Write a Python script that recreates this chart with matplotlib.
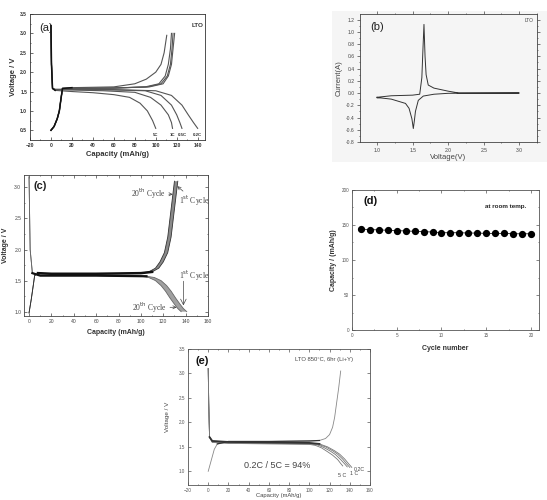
import matplotlib
matplotlib.use("Agg")
import matplotlib.pyplot as plt

plt.rcParams['font.family'] = ['Liberation Sans', 'DejaVu Sans']

# ---------------- Panel (a) data: rate capability ----------------
a_dis_labels = ["5C", "1C", "0.5C", "0.2C"]
a_dis_x = [
    [0, 0.5, 1.5, 4, 20, 40, 60, 75, 85, 92, 97, 100],
    [0, 0.5, 1.5, 4, 20, 50, 80, 95, 105, 112, 115, 116],
    [0, 0.5, 1.5, 4, 20, 60, 90, 105, 115, 120, 123, 125],
    [0, 0.5, 1.5, 4, 20, 60, 100, 115, 125, 131, 136, 140],
]
a_dis_y = [
    [3.2, 2.2, 1.58, 1.53, 1.50, 1.47, 1.42, 1.35, 1.20, 1.00, 0.75, 0.55],
    [3.2, 2.2, 1.58, 1.55, 1.54, 1.52, 1.48, 1.35, 1.15, 0.90, 0.70, 0.55],
    [3.2, 2.2, 1.58, 1.55, 1.55, 1.54, 1.52, 1.40, 1.15, 0.90, 0.70, 0.55],
    [3.2, 2.2, 1.58, 1.56, 1.56, 1.55, 1.52, 1.40, 1.15, 0.90, 0.70, 0.55],
]
a_chg_x = [
    [0, 3, 6, 8, 9.5, 11, 20, 60, 80, 91, 100, 105, 108, 110.5],
    [0, 3, 6, 8, 9.5, 11, 20, 60, 90, 103, 109, 112, 114, 115],
    [0, 3, 6, 8, 9.5, 11, 20, 60, 92, 105, 111, 114, 115.5, 116.5],
    [0, 3, 6, 8, 9.5, 11, 20, 60, 94, 107, 112, 115, 116.5, 118],
]
a_chg_y = [
    [0.5, 0.6, 0.8, 1.0, 1.3, 1.58, 1.60, 1.62, 1.70, 1.82, 2.00, 2.20, 2.50, 2.95],
    [0.5, 0.6, 0.8, 1.0, 1.3, 1.58, 1.58, 1.59, 1.62, 1.70, 1.90, 2.20, 2.60, 3.00],
    [0.5, 0.6, 0.8, 1.0, 1.3, 1.58, 1.58, 1.59, 1.62, 1.70, 1.90, 2.20, 2.60, 3.00],
    [0.5, 0.6, 0.8, 1.0, 1.3, 1.58, 1.58, 1.59, 1.62, 1.70, 1.90, 2.20, 2.60, 3.00],
]

# ---------------- Panel (b) data: cyclic voltammogram ----------------
b_volt = [1.0, 1.2, 1.5, 1.6, 1.63, 1.645, 1.66, 1.675, 1.69, 1.72, 1.8, 2.0, 2.15, 3.0,
          2.0, 1.8, 1.65, 1.58, 1.54, 1.525, 1.51, 1.49, 1.45, 1.4, 1.2, 1.05, 1.0, 1.0]
b_curr = [-0.07, -0.045, -0.035, -0.02, 0.25, 0.7, 1.12, 0.6, 0.3, 0.13, 0.08, 0.03, 0.0, 0.0,
          -0.005, -0.02, -0.05, -0.12, -0.3, -0.45, -0.58, -0.42, -0.25, -0.17, -0.1, -0.08, -0.08, -0.07]

# ---------------- Panel (c) data: cycling (1st and 20th cycle) ----------------
c_chg1_x = [0, 2, 4, 5, 8, 20, 60, 100, 110, 116, 120, 124, 127, 129, 131, 133]
c_chg20_x = [0, 2, 4, 5, 8, 20, 60, 98, 107, 113, 117, 121, 124, 126, 128, 130]
c_chg_y = [0.98, 1.2, 1.45, 1.58, 1.62, 1.61, 1.61, 1.62, 1.64, 1.70, 1.80, 1.95, 2.20, 2.50, 2.80, 3.10]
c_dis1_x = [0, 1, 3, 10, 60, 105, 112, 118, 123, 127, 131, 135, 138, 141]
c_dis20_x = [0, 1, 3, 10, 60, 100, 107, 113, 118, 122, 126, 130, 133, 136]
c_dis_y = [3.17, 2.0, 1.62, 1.58, 1.58, 1.57, 1.55, 1.50, 1.42, 1.33, 1.22, 1.12, 1.05, 1.0]

# ---------------- Panel (d) data: cycle life ----------------
d_cycle = list(range(1, 21))
d_capacity = [144, 143.5, 143, 142.5, 142, 141.5, 141, 140.5, 140, 139, 139, 139,
              138.5, 138.5, 138, 138, 138, 137.5, 137.5, 137.5]

# ---------------- Panel (e) data ----------------
e_rate_labels = ["0.2C", "0.5C", "1 C", "5 C"]
e_dis_x = [
    [0, 0.5, 1.3, 4, 20, 60, 100, 110, 118, 125, 130, 135, 139, 142],
    [0, 0.5, 1.3, 4, 20, 60, 100, 109, 116, 123, 128, 133, 137, 140],
    [0, 0.5, 1.3, 4, 20, 60, 100, 108, 114, 121, 126, 131, 135, 137.5],
    [0, 0.5, 1.3, 4, 20, 60, 100, 106, 112, 118, 123, 128, 131, 133],
]
e_dis_y = [
    [3.1, 2.4, 1.70, 1.62, 1.60, 1.59, 1.58, 1.56, 1.50, 1.42, 1.35, 1.25, 1.15, 1.08],
    [3.1, 2.4, 1.70, 1.61, 1.59, 1.58, 1.57, 1.55, 1.50, 1.42, 1.35, 1.25, 1.15, 1.08],
    [3.1, 2.4, 1.70, 1.60, 1.58, 1.57, 1.56, 1.54, 1.49, 1.41, 1.34, 1.24, 1.15, 1.09],
    [3.1, 2.4, 1.70, 1.59, 1.57, 1.56, 1.55, 1.53, 1.48, 1.40, 1.33, 1.24, 1.16, 1.11],
]
e_chg_x = [0, 2, 4, 6, 9, 20, 60, 100, 110, 116, 120, 123, 125, 127, 129, 131]
e_chg_y = [1.0, 1.15, 1.3, 1.45, 1.56, 1.61, 1.61, 1.62, 1.63, 1.67, 1.75, 1.90, 2.10, 2.40, 2.70, 3.05]

W, H = 547, 500
fig = plt.figure(figsize=(W / 100, H / 100), dpi=100)


def rect(l, r, t, b):
    return [l / W, 1 - b / H, (r - l) / W, (b - t) / H]


def style(ax, size=3.8, color='#333333', lw=0.6):
    for s in ax.spines.values():
        s.set_linewidth(lw)
        s.set_color(color)
    ax.tick_params(which='both', direction='in', labelsize=size, colors=color,
                   length=2, width=0.5, pad=2)
    ax.tick_params(which='minor', length=1)


# ---------- (a) ----------
ax = fig.add_axes(rect(30, 205, 14, 140))
for xs, ys in zip(a_dis_x, a_dis_y):
    ax.plot(xs, ys, color='#555555', lw=0.8)
for xs, ys in zip(a_chg_x, a_chg_y):
    ax.plot(xs, ys, color='#555555', lw=0.8)
ax.plot(a_chg_x[0][:7], a_chg_y[0][:7], color='#111111', lw=1.1)
ax.plot(a_dis_x[0][:4], a_dis_y[0][:4], color='#111111', lw=1.1)
for lab, xs in zip(a_dis_labels, a_dis_x):
    ax.text(xs[-1], 0.38, lab, fontsize=3.2, fontweight='bold', ha='center', va='center', color='#333333')
ax.set_xlim(-20, 147)
ax.set_ylim(0.25, 3.5)
ax.set_xticks(range(-20, 141, 20))
ax.set_yticks([0.5, 1.0, 1.5, 2.0, 2.5, 3.0, 3.5])
ax.set_xticks(range(-10, 141, 20), minor=True)
ax.set_yticks([0.75, 1.25, 1.75, 2.25, 2.75, 3.25], minor=True)
style(ax, size=3.6)
for t in ax.get_xticklabels() + ax.get_yticklabels():
    t.set_fontweight('bold')
ax.set_xlabel("Capacity (mAh/g)", fontsize=5.5, fontweight='bold', color='#333333', labelpad=2)
ax.set_ylabel("Voltage / V", fontsize=5.5, fontweight='bold', color='#333333', labelpad=2)
ax.text(0.05, 0.93, "(a)", transform=ax.transAxes, fontsize=8, va='top', color='#222222')
ax.text(0.99, 0.93, "LTO", transform=ax.transAxes, fontsize=4.5, fontweight='bold', va='top', ha='right', color='#333333')

# ---------- (b) ----------
bg = fig.add_axes([332 / W, 1 - 162 / H, (W - 332) / W, 151 / H], zorder=-5)
bg.set_facecolor('#f5f5f5')
bg.set_xticks([])
bg.set_yticks([])
for s in bg.spines.values():
    s.set_visible(False)
ax = fig.add_axes(rect(360, 537, 14, 142), zorder=2)
ax.set_facecolor('none')
ax.plot(b_volt, b_curr, color='#333333', lw=0.7)
ax.set_xlim(0.76, 3.25)
ax.set_ylim(-0.8, 1.29)
ax.set_xticks([1.0, 1.5, 2.0, 2.5, 3.0])
ax.set_xticklabels(["1.0", "1.5", "2.0", "2.5", "3.0"])
ax.set_yticks([-0.8, -0.6, -0.4, -0.2, 0.0, 0.2, 0.4, 0.6, 0.8, 1.0, 1.2])
ax.set_yticklabels(["-0.8", "-0.6", "-0.4", "-0.2", "0.0", "0.2", "0.4", "0.6", "0.8", "1.0", "1.2"])
ax.set_xticks([1.25, 1.75, 2.25, 2.75, 3.25], minor=True)
ax.set_yticks([-0.7, -0.5, -0.3, -0.1, 0.1, 0.3, 0.5, 0.7, 0.9, 1.1], minor=True)
style(ax, size=3.6, color='#444444')
ax.tick_params(which='both', direction='out', top=True, right=True)
ax.set_xlabel("Voltage(V)", fontsize=5.5, color='#444444', labelpad=1)
ax.set_ylabel("Current(A)", fontsize=5.5, color='#444444', labelpad=2)
ax.text(0.06, 0.94, "(b)", transform=ax.transAxes, fontsize=8, va='top', color='#222222')
ax.text(0.98, 0.97, "LTO", transform=ax.transAxes, fontsize=3.5, va='top', ha='right', color='#444444')

# ---------- (c) ----------
ax = fig.add_axes(rect(24, 208, 175, 316))
ax.fill(c_chg1_x + c_chg20_x[::-1], c_chg_y + c_chg_y[::-1], color='#8a8a8a', lw=0)
ax.fill(c_dis1_x + c_dis20_x[::-1], c_dis_y + c_dis_y[::-1], color='#a0a0a0', lw=0)
for xs in (c_chg1_x, c_chg20_x):
    ax.plot(xs, c_chg_y, color='#333333', lw=0.6)
for xs in (c_dis1_x, c_dis20_x):
    ax.plot(xs, c_dis_y, color='#666666', lw=0.6)
ax.plot(c_chg1_x[4:9], c_chg_y[4:9], color='#111111', lw=1.8)
ax.plot(c_dis1_x[2:6], c_dis_y[2:6], color='#111111', lw=1.6)
ax.set_xlim(-4.5, 160)
ax.set_ylim(0.93, 3.2)
ax.set_xticks(range(0, 161, 20))
ax.set_yticks([1.0, 1.5, 2.0, 2.5, 3.0])
ax.set_yticklabels(["1.0", "1.5", "2.0", "2.5", "3.0"])
ax.set_xticks(range(10, 160, 20), minor=True)
ax.set_yticks([1.25, 1.75, 2.25, 2.75], minor=True)
style(ax, size=3.6, color='#444444')
ax.tick_params(which='both', top=True, right=True)
ax.set_xlabel("Capacity (mAh/g)", fontsize=5, fontweight='bold', color='#333333', labelpad=4)
ax.set_ylabel("Voltage / V", fontsize=5, fontweight='bold', color='#333333', labelpad=4)
ax.text(0.05, 0.96, "(c)", transform=ax.transAxes, fontsize=8, fontweight='bold', va='top', color='#222222')
serif = ['Liberation Serif', 'DejaVu Serif']
arr = dict(arrowstyle='->', lw=0.5, color='#444444', shrinkA=0, shrinkB=0)
ax.annotate(r"20$^{\rm th}$ Cycle", xy=(128.5, 2.89), xytext=(107, 2.89), fontsize=5.5, family=serif,
            ha='center', va='center', color='#444444', arrowprops=arr, annotation_clip=False)
ax.annotate(r"1$^{\rm st}$ Cycle", xy=(132.5, 3.02), xytext=(148, 2.78), fontsize=5.5, family=serif,
            ha='center', va='center', color='#444444', arrowprops=arr, annotation_clip=False)
ax.text(148, 1.57, r"1$^{\rm st}$ Cycle", fontsize=5.5, family=serif, ha='center', va='center',
        color='#444444', clip_on=False)
ax.annotate("", xy=(138, 1.1), xytext=(138, 1.49), arrowprops=arr, annotation_clip=False)
ax.annotate(r"20$^{\rm th}$ Cycle", xy=(132, 1.07), xytext=(108, 1.07), fontsize=5.5, family=serif,
            ha='center', va='center', color='#444444', arrowprops=arr, annotation_clip=False)

# ---------- (d) ----------
ax = fig.add_axes(rect(352, 539, 190, 330))
ax.plot(d_cycle, d_capacity, color='#222222', lw=0.6, marker='o', markersize=4.2,
        markerfacecolor='black', markeredgecolor='black')
ax.set_xlim(0, 20.9)
ax.set_ylim(0, 200)
ax.set_xticks([0, 5, 10, 15, 20])
ax.set_yticks([0, 50, 100, 150, 200])
ax.set_xticks([2.5, 7.5, 12.5, 17.5], minor=True)
ax.set_yticks([25, 75, 125, 175], minor=True)
style(ax, size=3.3, color='#555555')
ax.tick_params(which='both', top=True, right=True)
ax.set_xlabel("Cycle number", fontsize=5, fontweight='bold', color='#333333', labelpad=5)
ax.set_ylabel("Capacity / (mAh/g)", fontsize=5, fontweight='bold', color='#333333', labelpad=3)
ax.text(0.06, 0.96, "(d)", transform=ax.transAxes, fontsize=8, fontweight='bold', va='top', color='#111111')
ax.text(0.71, 0.88, "at room temp.", transform=ax.transAxes, fontsize=4.5, fontweight='bold', va='center', color='#222222')

# ---------- (e) ----------
ax = fig.add_axes(rect(188, 370, 349, 485))
for xs, ys in zip(e_dis_x, e_dis_y):
    ax.plot(xs, ys, color='#777777', lw=0.6)
ax.plot(e_chg_x, e_chg_y, color='#888888', lw=0.6)
ax.plot(e_dis_x[0][2:8], e_dis_y[0][2:8], color='#333333', lw=1.3)
ax.plot(e_chg_x[4:9], e_chg_y[4:9], color='#333333', lw=0.9)
ax.text(e_dis_x[0][-1] + 2, 1.04, e_rate_labels[0], fontsize=3.8, color='#444444', va='center')
ax.text(e_dis_x[2][-1] + 3, 0.96, e_rate_labels[2], fontsize=3.8, color='#444444', va='center')
ax.text(e_dis_x[3][-1] - 1, 0.92, e_rate_labels[3], fontsize=3.8, color='#444444', va='center', ha='center')
ax.set_xlim(-20, 160)
ax.set_ylim(0.72, 3.5)
ax.set_xticks(range(-20, 161, 20))
ax.set_yticks([1.0, 1.5, 2.0, 2.5, 3.0, 3.5])
ax.set_xticks(range(-10, 160, 20), minor=True)
style(ax, size=3.3, color='#555555')
ax.tick_params(which='both', top=True, right=True)
ax.set_ylabel("Voltage / V", fontsize=4.5, color='#444444', labelpad=6)
ax.set_xlabel("Capacity (mAh/g)", fontsize=4.2, color='#444444', labelpad=0.5)
ax.text(0.04, 0.95, "(e)", transform=ax.transAxes, fontsize=8, fontweight='bold', va='top', color='#111111')
ax.text(0.59, 0.94, "LTO 850\u00b0C, 6hr (Li+Y)", transform=ax.transAxes, fontsize=4.2, va='top', color='#444444')
ax.text(0.31, 0.14, "0.2C / 5C = 94%", transform=ax.transAxes, fontsize=6.5, va='center', color='#444444')

fig.savefig("out.png", dpi=100, facecolor='white')
